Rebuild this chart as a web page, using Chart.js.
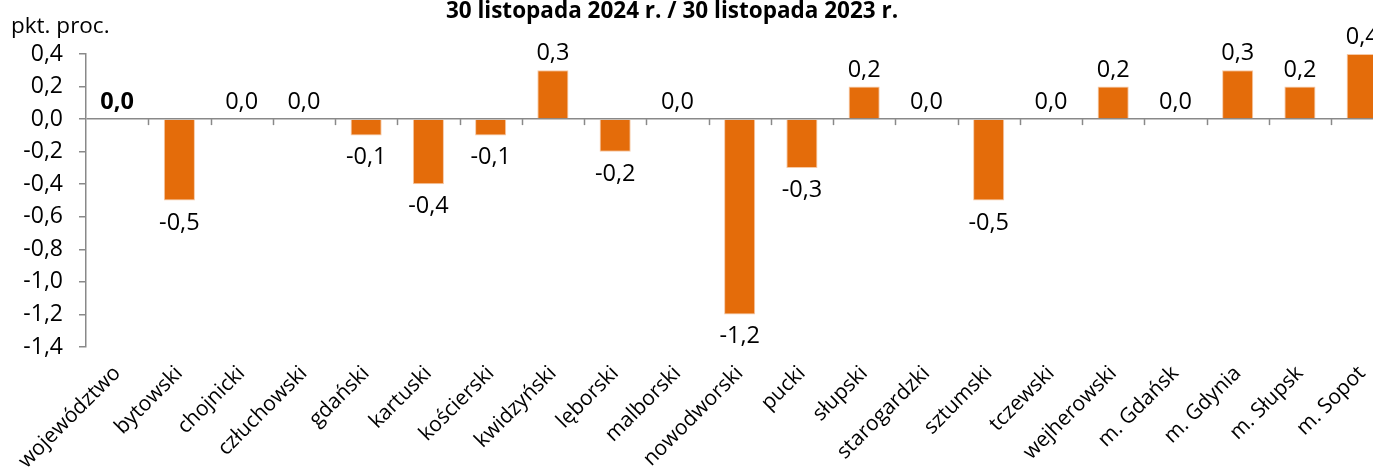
<!DOCTYPE html>
<html><head><meta charset="utf-8">
<script src="https://cdn.jsdelivr.net/npm/chart.js@4/dist/chart.umd.min.js"></script>
<style>html,body{margin:0;padding:0;overflow:hidden;background:#fff}#wrap{position:relative;width:1394px;height:472px}</style>
</head><body><div id="wrap"><canvas id="c" width="1394" height="472"></canvas></div>
<script>
const categories = ['województwo','bytowski','chojnicki','człuchowski','gdański','kartuski','kościerski','kwidzyński','lęborski','malborski','nowodworski','pucki','słupski','starogardzki','sztumski','tczewski','wejherowski','m. Gdańsk','m. Gdynia','m. Słupsk','m. Sopot'];
const values = [0.0,-0.5,0.0,0.0,-0.1,-0.4,-0.1,0.3,-0.2,0.0,-1.2,-0.3,0.2,0.0,-0.5,0.0,0.2,0.0,0.3,0.2,0.4];
const yTickValues = [-1.4,-1.2,-1.0,-0.8,-0.6,-0.4,-0.2,0.0,0.2,0.4];
const titleText = '30 listopada 2024 r. / 30 listopada 2023 r.';
const unitText = 'pkt. proc.';

const FONT = '"Open Sans", "DejaVu Sans", sans-serif';
const AXIS = '#898989';
const fmt = v => (Math.abs(v) < 1e-9 ? 0 : v).toFixed(1).replace('.', ',');

const extras = {
  id: 'extras',
  afterDraw(chart) {
    const ctx = chart.ctx;
    const x = chart.scales.x, y = chart.scales.y;
    const y0 = y.getPixelForValue(0);
    const half = (x.getPixelForValue(1) - x.getPixelForValue(0)) / 2;
    ctx.save();
    // tick marks on the zero line at category boundaries
    ctx.strokeStyle = AXIS; ctx.lineWidth = 1.5;
    for (let i = 1; i <= categories.length; i++) {
      const px = Math.round(x.getPixelForValue(i) - half) + 0.5;
      ctx.beginPath(); ctx.moveTo(px, y0); ctx.lineTo(px, y0 + 6); ctx.stroke();
    }
    // data labels
    ctx.fillStyle = '#000'; ctx.textAlign = 'center'; ctx.textBaseline = 'alphabetic';
    const meta = chart.getDatasetMeta(0);
    meta.data.forEach((bar, i) => {
      const v = values[i];
      ctx.font = (i === 0 ? 'bold ' : '') + '23.5px ' + FONT;
      const ty = v >= 0 ? bar.y - 10 : bar.y + 29;
      ctx.fillText(fmt(v), bar.x, ty);
    });
    // title and unit
    ctx.font = 'bold 22.5px ' + FONT;
    ctx.fillText(titleText, 672, 18);
    ctx.textAlign = 'left';
    ctx.font = '22.5px ' + FONT;
    ctx.fillText(unitText, 11, 33);
    ctx.restore();
  }
};

new Chart(document.getElementById('c'), {
  type: 'bar',
  data: {
    labels: categories,
    datasets: [{
      data: values,
      backgroundColor: '#E46C0A',
      borderColor: '#F6C9A6',
      borderWidth: 1,
      barPercentage: 1.0,
      categoryPercentage: 0.5
    }]
  },
  options: {
    responsive: false,
    animation: false,
    events: [],
    layout: { padding: { top: 54, left: 0, right: 0, bottom: 0 } },
    plugins: { legend: { display: false }, tooltip: { enabled: false }, title: { display: false } },
    scales: {
      x: {
        offset: true,
        grid: { display: false, drawTicks: false },
        border: { display: false },
        ticks: {
          autoSkip: false, minRotation: 45, maxRotation: 45, padding: 14,
          color: '#000', font: { family: FONT, size: 21 }
        },
        afterFit: s => { s.height = 125; }
      },
      y: {
        min: -1.4, max: 0.4,
        afterBuildTicks: s => { s.ticks = yTickValues.map(v => ({ value: v })); },
        grid: {
          drawOnChartArea: true,
          color: c => (c.tick && Math.abs(c.tick.value) < 1e-9) ? AXIS : 'rgba(0,0,0,0)',
          lineWidth: 1.5,
          tickColor: AXIS, tickLength: 7, drawTicks: true
        },
        border: { display: true, color: AXIS, width: 1.5 },
        ticks: {
          padding: 16, color: '#000', font: { family: FONT, size: 23 },
          callback: v => fmt(v)
        },
        afterFit: s => { s.width = 86; }
      }
    }
  },
  plugins: [extras]
});
</script>
</body></html>
